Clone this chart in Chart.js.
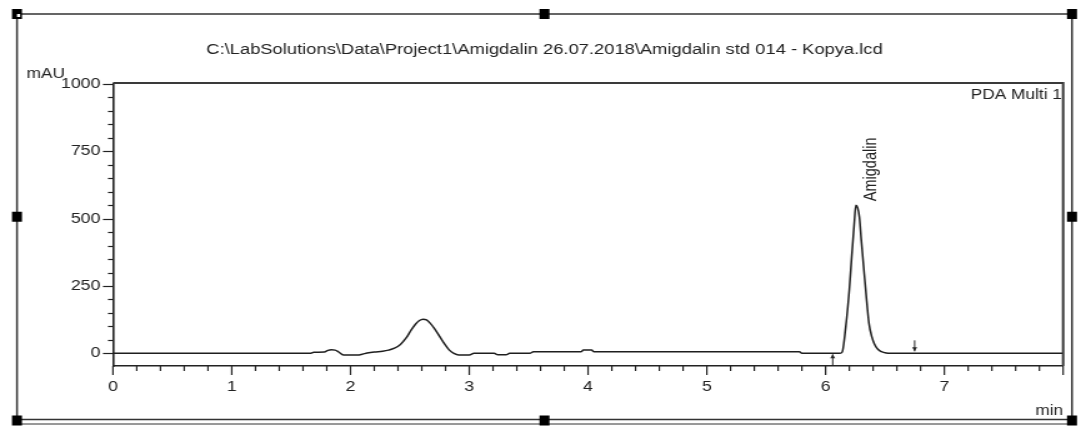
<!DOCTYPE html>
<html>
<head>
<meta charset="utf-8">
<script src="https://cdn.jsdelivr.net/npm/chart.js@4.4.1/dist/chart.umd.min.js"></script>
<style>
  html, body { margin: 0; padding: 0; background: #fff; overflow: hidden; }
  #wrap { width: 1081px; height: 428px; overflow: hidden; }
  /* the report layout is wider than it is drawn: stretch the canvas horizontally */
  #c { display: block; transform-origin: 0 0; transform: scaleX(1.2497); }
</style>
</head>
<body>
<div id="wrap"><canvas id="c" width="865" height="428"></canvas></div>
<script>
// Chromatogram trace: retention time (min) and detector response (mAU)
const retentionTime = [0, 1.66, 1.69, 1.78, 1.81, 1.84, 1.87, 1.90, 1.94, 2.06,
  2.10, 2.14, 2.20, 2.27, 2.32, 2.37, 2.42, 2.47, 2.51, 2.55,
  2.58, 2.61, 2.64, 2.67, 2.71, 2.75, 2.79, 2.83, 2.87, 2.91,
  3.00, 3.04, 3.21, 3.24, 3.31, 3.34, 3.51, 3.54, 3.94, 3.96,
  4.03, 4.05, 5.78, 5.80, 6.12, 6.14, 6.17, 6.20, 6.22, 6.24,
  6.255, 6.27, 6.285, 6.30, 6.32, 6.34, 6.365, 6.39, 6.41, 6.44,
  6.47, 6.51, 6.55, 8.00];
const absorbance = [0, 0, 4, 5, 11, 13, 12, 5, -6, -6,
  -3, 1, 5, 8, 12, 19, 33, 58, 86, 110,
  122, 127, 124, 112, 90, 63, 36, 13, 0, -6,
  -6, 0, 0, -5, -5, 0, 0, 6, 6, 12,
  12, 6, 6, 0, 0, 5, 100, 237, 360, 475,
  550, 540, 505, 423, 323, 224, 112, 60, 36, 15,
  6, 1, 0, 0];

// Axis tick labels
const xTickLabels = ['0', '1', '2', '3', '4', '5', '6', '7'];
const yTickLabels = ['0', '250', '500', '750', '1000'];

// Integrated peak: name and integration start / end (min)
const peakName = 'Amigdalin';
const peakStart = 6.06;
const peakEnd = 6.75;

// Texts
const chartTitle = 'C:\\LabSolutions\\Data\\Project1\\Amigdalin 26.07.2018\\Amigdalin std 014 - Kopya.lcd';
const channelName = 'PDA Multi 1';
const yUnit = 'mAU';
const xUnit = 'min';

const FONT = "'Liberation Sans', Arial, sans-serif";
const INK = '#222';

// Frame, plot box, tick marks, texts and integration markers
const reportDecor = {
  id: 'reportDecor',
  afterDraw(chart) {
    const { ctx, chartArea: a, scales: { x, y } } = chart;
    ctx.save();
    ctx.strokeStyle = '#333';
    ctx.fillStyle = INK;

    // outer frame of the report object
    const fl = 13.6, fr = 857.8, ft = 14, fb = 419.5;
    ctx.lineWidth = 1.5;
    ctx.beginPath();
    ctx.moveTo(fl, ft); ctx.lineTo(fr, ft); ctx.lineTo(fr, fb); ctx.lineTo(fl, fb); ctx.closePath();
    ctx.stroke();
    ctx.lineWidth = 1;
    ctx.beginPath(); ctx.moveTo(fl, 424); ctx.lineTo(fr, 424); ctx.stroke();

    // selection handles
    ctx.fillStyle = '#000';
    const mx = (fl + fr) / 2, my = (ft + fb) / 2;
    [[fl, ft], [mx, ft], [fr, ft], [fl, my], [fr, my], [fl, fb + 1], [mx, fb + 1], [fr, fb + 1]].forEach(([hx, hy]) => {
      ctx.fillRect(hx - 4, hy - 5, 8, 10);
    });
    ctx.fillStyle = '#fff';
    ctx.fillRect(fl, ft, 2.5, 3);

    // top and right edges of the plot box
    ctx.strokeStyle = '#3a3a3a';
    ctx.lineWidth = 2;
    ctx.beginPath();
    ctx.moveTo(a.left, a.top - 1); ctx.lineTo(a.right, a.top - 1); ctx.lineTo(a.right, a.bottom);
    ctx.stroke();

    // tick marks: long at labelled values, short in between
    ctx.strokeStyle = '#222';
    ctx.lineWidth = 1.2;
    y.ticks.forEach(t => {
      const py = Math.round(y.getPixelForValue(t.value)) + 0.5;
      const len = t.value % 250 === 0 ? 8 : 4;
      ctx.beginPath(); ctx.moveTo(a.left - len, py); ctx.lineTo(a.left, py); ctx.stroke();
    });
    x.ticks.forEach(t => {
      const px = x.getPixelForValue(t.value);
      const len = Math.abs(t.value - Math.round(t.value)) < 1e-6 ? 9 : 5;
      ctx.beginPath(); ctx.moveTo(px, a.bottom); ctx.lineTo(px, a.bottom + len); ctx.stroke();
    });

    // texts
    ctx.fillStyle = INK;
    ctx.font = '14.7px ' + FONT;
    ctx.textAlign = 'center';
    ctx.textBaseline = 'alphabetic';
    ctx.fillText(chartTitle, mx, 53.5);

    ctx.font = '13.8px ' + FONT;
    ctx.textAlign = 'left';
    ctx.fillText(yUnit, 21.2, 78);
    ctx.textAlign = 'right';
    ctx.fillText(channelName, a.right - 1, 99);
    ctx.fillText(xUnit, a.right, 414.5);

    // peak name, written upward just above the apex
    let iMax = 0;
    absorbance.forEach((v, i) => { if (v > absorbance[iMax]) iMax = i; });
    const apx = x.getPixelForValue(retentionTime[iMax]);
    const apy = y.getPixelForValue(absorbance[iMax]);
    ctx.save();
    ctx.translate(apx + 12, apy - 4);
    ctx.rotate(-Math.PI / 2);
    ctx.textAlign = 'left';
    ctx.textBaseline = 'middle';
    ctx.font = '14.5px ' + FONT;
    ctx.fillText(peakName, 0, 0);
    ctx.restore();

    // integration start (up arrow below baseline) and end (down arrow above)
    const y0 = y.getPixelForValue(0);
    ctx.fillStyle = '#222';
    ctx.lineWidth = 1;
    const sx = x.getPixelForValue(peakStart);
    ctx.beginPath(); ctx.moveTo(sx, y0 + 1); ctx.lineTo(sx, a.bottom); ctx.stroke();
    ctx.beginPath(); ctx.moveTo(sx - 2, y0 + 5); ctx.lineTo(sx + 2, y0 + 5); ctx.lineTo(sx, y0 + 1); ctx.closePath(); ctx.fill();
    const ex = x.getPixelForValue(peakEnd);
    ctx.beginPath(); ctx.moveTo(ex, y0 - 13); ctx.lineTo(ex, y0 - 2); ctx.stroke();
    ctx.beginPath(); ctx.moveTo(ex - 2, y0 - 6); ctx.lineTo(ex + 2, y0 - 6); ctx.lineTo(ex, y0 - 2); ctx.closePath(); ctx.fill();

    ctx.restore();
  }
};

const points = retentionTime.map((t, i) => ({ x: t, y: absorbance[i] }));

new Chart(document.getElementById('c'), {
  type: 'line',
  data: {
    datasets: [{
      data: points,
      borderColor: '#1e1e1e',
      borderWidth: 1.5,
      pointRadius: 0,
      fill: false,
      cubicInterpolationMode: 'monotone'
    }]
  },
  options: {
    responsive: false,
    devicePixelRatio: 1,
    animation: false,
    events: [],
    layout: { padding: { top: 84, right: 14.3, left: 0, bottom: 0 } },
    plugins: { legend: { display: false }, tooltip: { enabled: false }, title: { display: false } },
    scales: {
      x: {
        type: 'linear',
        min: 0,
        max: 8,
        afterFit: s => { s.height = 62; },
        grid: { display: true, drawOnChartArea: false, drawTicks: true, tickLength: 9, tickColor: 'rgba(0,0,0,0)' },
        border: { display: true, color: '#222', width: 1.6 },
        ticks: {
          stepSize: 0.2,
          includeBounds: false,
          autoSkip: false,
          maxRotation: 0,
          padding: 4,
          color: INK,
          font: { family: FONT, size: 14.2 },
          callback: v => { const s = String(Math.round(v * 1000) / 1000); return xTickLabels.includes(s) ? s : ''; }
        }
      },
      y: {
        type: 'linear',
        min: -47,
        max: 1000,
        afterFit: s => { s.width = 90.4; },
        grid: { display: true, drawOnChartArea: false, drawTicks: true, tickLength: 8, tickColor: 'rgba(0,0,0,0)' },
        border: { display: true, color: '#222', width: 1.6 },
        ticks: {
          stepSize: 50,
          includeBounds: false,
          autoSkip: false,
          padding: 2,
          color: INK,
          font: { family: FONT, size: 14.2 },
          callback: v => { const s = String(v); return yTickLabels.includes(s) ? s : ''; }
        }
      }
    }
  },
  plugins: [reportDecor]
});
</script>
</body>
</html>
